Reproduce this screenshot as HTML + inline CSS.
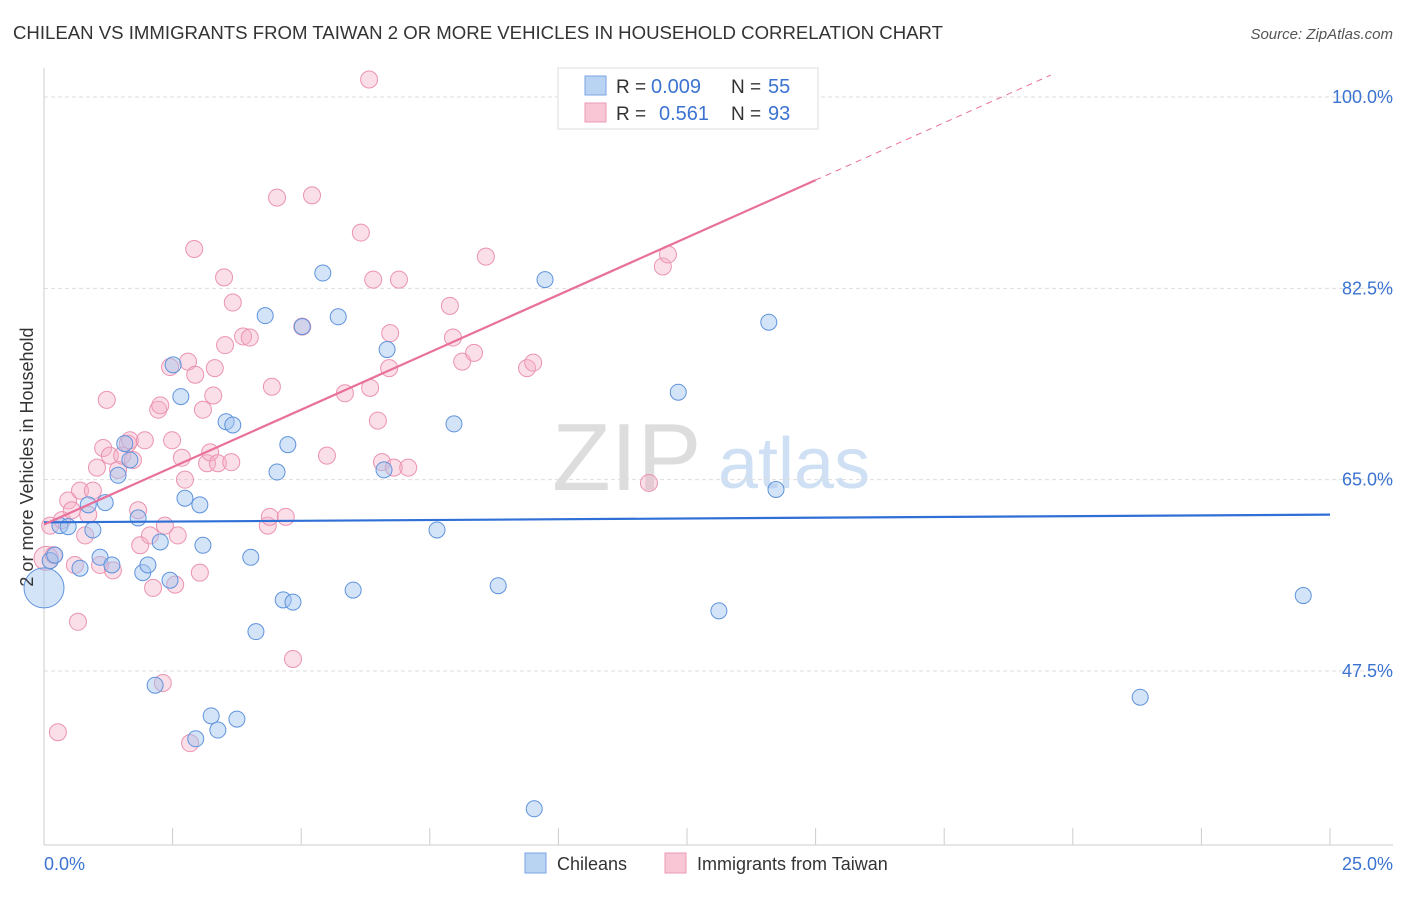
<!DOCTYPE html>
<html><head><meta charset="utf-8"><style>
body{margin:0;background:#fff;font-family:"Liberation Sans",sans-serif;}
svg text{font-family:"Liberation Sans",sans-serif;}
</style></head><body>
<svg id="chart" width="1406" height="892" xmlns="http://www.w3.org/2000/svg">
<text x="13" y="39" font-size="18" fill="#333" textLength="930" lengthAdjust="spacingAndGlyphs">CHILEAN VS IMMIGRANTS FROM TAIWAN 2 OR MORE VEHICLES IN HOUSEHOLD CORRELATION CHART</text>
<text x="1393" y="39" font-size="15" fill="#555" font-style="italic" text-anchor="end">Source: ZipAtlas.com</text>
<g>
<text x="552" y="490" font-size="96" fill="#ddd" font-family="Liberation Serif, serif">ZIP</text>
<text x="718" y="488" font-size="72" fill="#cfe0f4">atlas</text>
</g>
<g id="grid"></g>
<g id="axes"></g>
<g id="pts"></g>
<g id="trend"></g>
<text transform="translate(33,457) rotate(-90)" font-size="18" fill="#333" text-anchor="middle">2 or more Vehicles in Household</text>
<g>
<rect x="558" y="68" width="260" height="61" fill="#fff" stroke="#ddd"/>
<rect x="585" y="76" width="21" height="19" fill="#b9d3f3" stroke="#7aa6e0"/>
<rect x="585" y="103" width="21" height="19" fill="#f9c6d5" stroke="#ec9ab5"/>
<text x="616" y="93" font-size="19" fill="#333">R =</text>
<text x="651" y="93" font-size="20" fill="#3b73d1">0.009</text>
<text x="731" y="93" font-size="19" fill="#333">N =</text>
<text x="768" y="93" font-size="20" fill="#3b73d1">55</text>
<text x="616" y="120" font-size="19" fill="#333">R =</text>
<text x="659" y="120" font-size="20" fill="#3b73d1">0.561</text>
<text x="731" y="120" font-size="19" fill="#333">N =</text>
<text x="768" y="120" font-size="20" fill="#3b73d1">93</text>
</g>
<g>
<rect x="525" y="853" width="21" height="20" fill="#b9d3f3" stroke="#7aa6e0"/>
<text x="557" y="870" font-size="18" fill="#333">Chileans</text>
<rect x="665" y="853" width="21" height="20" fill="#f9c6d5" stroke="#ec9ab5"/>
<text x="697" y="870" font-size="18" fill="#333">Immigrants from Taiwan</text>
</g>
</svg>
<script>
const yTicks=[100.0,82.5,65.0,47.5];
const xTickLabels=["0.0%","25.0%"];
const blueX=[0,0.12,0.21,0.31,0.47,0.70,0.86,0.95,1.09,1.19,1.32,1.44,1.57,1.67,1.83,1.92,2.02,2.16,2.26,2.45,2.51,2.66,2.74,3.03,3.09,3.25,3.38,2.95,3.54,3.67,3.75,4.02,4.12,4.30,4.53,4.65,4.74,4.84,5.02,5.42,5.72,6.01,6.67,6.61,7.64,7.97,8.83,9.53,9.74,12.33,13.12,14.09,14.23,21.31,24.48];
const blueY=[55.1,57.6,58.1,60.8,60.7,56.9,62.7,60.4,57.9,62.9,57.2,65.4,68.3,66.8,61.5,56.5,57.2,46.2,59.3,55.8,75.5,72.6,63.3,62.7,59.0,43.4,42.1,41.3,70.3,70.0,43.1,57.9,51.1,80.0,65.7,54.0,68.2,53.8,79.0,83.9,79.9,54.9,76.9,65.9,60.4,70.1,55.3,34.9,83.3,73.0,53.0,79.4,64.1,45.1,54.4];
const blueR=[20];
const pinkX=[0.04,0.12,0.19,0.27,0.35,0.47,0.54,0.60,0.66,0.70,0.80,0.86,0.95,1.03,1.09,1.15,1.22,1.28,1.34,1.44,1.52,1.63,1.67,1.73,1.83,1.87,1.96,2.06,2.12,2.22,2.26,2.35,2.31,2.45,2.49,2.55,2.60,2.68,2.74,2.80,2.84,2.92,2.94,3.03,3.09,3.17,3.23,3.29,3.32,3.38,3.52,3.50,3.64,3.67,3.87,4.00,4.43,4.35,4.39,4.53,4.70,4.84,5.02,5.21,5.50,5.85,6.16,6.34,6.32,6.40,6.49,6.57,6.73,6.71,6.80,6.90,7.08,7.89,7.95,8.13,8.36,8.59,9.39,9.51,11.76,12.03,12.13];
const pinkY=[57.8,60.8,58.1,41.9,61.3,63.1,62.2,57.2,52.0,64.0,59.9,61.8,64.0,66.1,57.2,67.9,72.3,67.2,56.7,65.9,67.2,68.3,68.6,66.8,62.2,59.0,68.6,59.9,55.1,71.4,71.8,60.8,46.4,75.3,68.6,55.4,59.9,67.0,65.0,75.8,40.9,86.1,74.6,56.5,71.4,66.5,67.5,72.7,75.2,66.5,77.3,83.5,66.6,81.2,78.1,78.0,73.5,60.8,61.6,90.8,61.6,48.6,79.0,91.0,67.2,72.9,87.6,73.4,101.6,83.3,70.4,66.6,78.4,75.2,66.1,83.3,66.1,80.9,78.0,75.8,76.6,85.4,75.2,75.7,64.7,84.5,85.6];
const blueTrend=[61.1,61.8];
const pinkTrend=[60.9,2.1];
const X0=44,X1=1330;
function sx(v){return X0+v*(X1-X0)/25;}
function sy(v){return 97+(100-v)*(671-97)/52.5;}
const NS="http://www.w3.org/2000/svg";
function mk(tag,attrs,parent){const e=document.createElementNS(NS,tag);for(const k in attrs)e.setAttribute(k,attrs[k]);parent.appendChild(e);return e;}
const grid=document.getElementById('grid'),axes=document.getElementById('axes'),pts=document.getElementById('pts'),trend=document.getElementById('trend');
yTicks.forEach(t=>{
 const l=mk('line',{x1:44,x2:1393,y1:sy(t),y2:sy(t),stroke:'#ddd','stroke-dasharray':'4,3'},grid);
 
 
 const tx=mk('text',{x:1393,y:sy(t)+6,'font-size':18,fill:'#3b73d1','text-anchor':'end'},axes);
 tx.textContent=t.toFixed(1)+'%';
 
 
});
mk('line',{x1:44,x2:44,y1:68,y2:845,stroke:'#ccc'},axes);
mk('line',{x1:44,x2:1393,y1:845,y2:845,stroke:'#ccc'},axes);
for(let i=0;i<=10;i++){
 const t=mk('line',{x1:sx(i*2.5),x2:sx(i*2.5),y1:828,y2:845,stroke:'#ccc'},axes);
 
 
}
const xl0=mk('text',{x:44,y:870,'font-size':18,fill:'#3b73d1'},axes);xl0.textContent=xTickLabels[0];


const xl1=mk('text',{x:1393,y:870,'font-size':18,fill:'#3b73d1','text-anchor':'end'},axes);xl1.textContent=xTickLabels[1];


pinkX.forEach((x,i)=>{
 const c=mk('circle',{cx:sx(x),cy:sy(pinkY[i]),r:i===0?12:8.5,fill:'rgba(246,176,198,0.4)',stroke:'#eb93b0','stroke-width':1},pts);
 
 
});
blueX.forEach((x,i)=>{
 const c=mk('circle',{cx:sx(x),cy:sy(blueY[i]),r:i===0?blueR[0]:8,fill:'rgba(160,195,240,0.45)',stroke:'#5f93dc','stroke-width':1},pts);
 
 
});
const bl=mk('line',{x1:sx(0),y1:sy(blueTrend[0]),x2:sx(25),y2:sy(blueTrend[1]),stroke:'#2f6fd6','stroke-width':2.2},trend);


const pe=15;
const pl=mk('line',{x1:sx(0),y1:sy(pinkTrend[0]),x2:sx(pe),y2:sy(pinkTrend[0]+pinkTrend[1]*pe),stroke:'#e8709a','stroke-width':2.2},trend);


const xe=(102-pinkTrend[0])/pinkTrend[1];
const pd=mk('line',{x1:sx(pe),y1:sy(pinkTrend[0]+pinkTrend[1]*pe),x2:sx(xe),y2:sy(102),stroke:'#e8709a','stroke-width':1,'stroke-dasharray':'6,5'},trend);


</script>
</body></html>
